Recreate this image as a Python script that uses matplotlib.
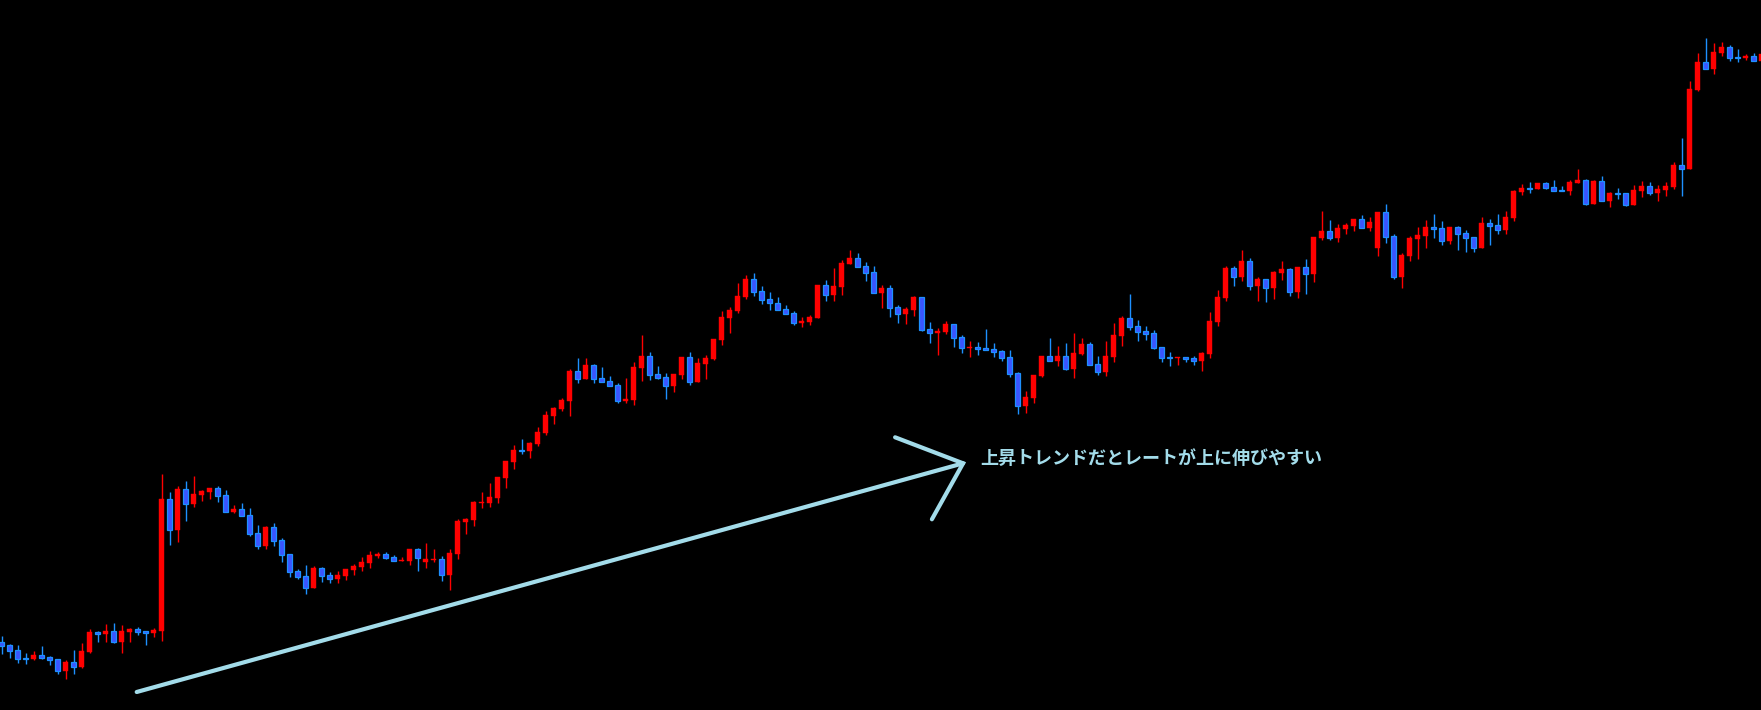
import matplotlib
matplotlib.use("Agg")
import matplotlib.pyplot as plt
import numpy as np

# price units are arbitrary (chart has no axes)
opens = [68,64.7,59.7,51.7,51,54.7,53,50.7,39.3,48,42.7,58.3,78,76.3,79,68,78.3,81,79,77,
 79,211,180.3,221,206.3,215,218,222,215,198,201,195,177,164.3,183,170,156,139,134,122.3,
 142,135,131,134.3,140.3,143.3,147.3,154.3,156,153,149.3,149.3,161,148.3,150.3,151,135.3,156.3,188.3,190.3,
 207.3,207.3,212.3,232.3,248.3,260,259.3,266.3,277.3,294.3,301.3,309.3,339,331.3,345,332,329,325,309.3,310.3,
 342.3,354,336,333,324.3,335.3,353,328.3,346.3,351.3,370.3,392.3,399.3,413.3,431,419,411,407,401,397,
 387.3,388.3,392.3,425,415.3,423.3,446.3,452,444,438,417.3,422,403,396.3,400.3,413,381,377.3,378.3,386,
 373,362.3,363,362,361,359,353,337,303.7,312.3,334.3,354,349.3,354,341.3,356.3,366,346,338.3,353.3,
 374.3,392,384,379,377,363,353.3,352.3,353,352,349.3,356.3,388.3,412.3,442,433.3,449,424.3,431,422.3,
 437.3,441,418.3,443,436.3,472.3,479,472.3,481,484.3,491,482.3,462.3,498,474,433.3,454.3,471,474.3,483,
 482,469.3,483,477,473,462.3,487,485,480.3,492.3,518.3,522,521.3,527,523,520,519.3,527,530,506.3,
 529,509.3,517,517,505.3,519.3,524,517.3,520.3,523.3,545,541.3,620.3,648,641.3,657.3,663,653,652.3,654,
 649.3]
highs = [74,66,64.7,57,58.7,64,54,50.7,49.7,60,67,81,78.7,86,87,85,82,83,79,82,
 236,218,224,229,234,220,222,224,220,205,207,202,185,183.7,187,172,156,141,145,144,
 143.3,138,139,141,146,153,159,158.3,158,155,153,161,162,167,161,154,161,191,192,209,
 218,227,233,249,265,271,268,283,299,303,312,341,352,352,346,343,334,327,332,348,
 375,358,344,337,336,353,358,352,355,371,399,403,427,435,437,424,418,413,405,399,
 393.3,395,425,430,442,450,460,457,448,444,425,425,405,403,414,413,388,382,389,386,
 375,369,368,381,367,360,360,338,319,335,354,372,364,367,377,372,368,354,369,387,
 394,416,390,384.3,380,363,358,353.3,353,354,358,398,420,444,444,460,452,433,431,439,
 449,442,443,451,473,499,490,486,487,491,495,493,498,506,476,457,474,483,490,496,
 489,483,484,480,473,493,491,496,499,520,526,528,527,528,530,524,530,541,531,530,
 534,518,522,517,525,529,528,525,528,548,572,629,657,672,667,668,665,661,656,657,
 656]
lows = [56,52.3,47.3,46.3,50,51.3,45.3,36.3,31,36.3,42,57,68,68,67,57,68,75,65,73,
 69,165,168,189,203,209,211,208.3,198.3,197,194.3,174.3,161.3,161.3,164.3,148.3,133.3,131.3,116.3,122.3,
 128.3,127.3,127.3,130.3,135.3,139.3,142.3,152.3,151.3,149.3,149.3,145.3,139.3,142.3,148.3,129.3,120.3,151.3,176.3,184.3,
 202.3,203.3,207.3,222.3,241.3,256.3,252.3,264.3,275.3,286.3,299.3,294.3,327.3,331.3,327.3,328.3,324.3,307.3,307.3,305.3,
 329.3,330.3,331.3,311.3,318.3,331.3,325.3,328.3,331.3,350.3,365.3,377.3,397.3,411.3,414.3,406.3,400.3,400.3,396.3,385.3,
 383.3,385.3,392.3,409.3,409.3,415.3,446.3,443.3,429.3,417.3,402.3,393.3,387.3,386.3,394.3,379.3,367.3,355.3,376.3,363.3,
 357.3,353.3,355.3,360.3,353.3,349.3,333.3,296.3,297.3,307.3,333.3,349.3,344.3,340.3,332.3,355.3,345.3,335.3,334.3,348.3,
 364.3,380.3,369.3,370.3,361.3,348.3,344.3,345.3,348.3,345.3,339.3,352.3,384.3,409.3,424.3,429.3,420.3,409.3,408.3,411.3,
 430.3,414.3,412.3,416.3,428.3,470,470,468.3,476.3,479.3,482.3,479.3,454.3,467.3,431.3,422.3,449.3,451.3,462.3,472.3,
 465.3,466.3,460.3,458.3,458.3,462.3,465.3,476.3,476.3,489.3,515.3,517.3,521.3,521.3,519.3,519.3,515.3,527,505.3,506.3,
 509.3,503.3,511.3,504.3,505.3,513.3,515.3,509.3,514.3,521.3,514.3,541.3,619.3,641.3,636.3,654.3,649.3,648.3,650.3,649.3,
 649.3]
closes = [64.3,59.3,51.3,51,54.7,52.3,50.3,39.3,48,43.3,59,78,76.3,79,68,79,81,78.3,77.3,80,
 211,180.3,221,206.3,216,219,222,214.3,198.3,201,194.3,176.3,164.3,183,169.3,155.3,138.3,133.3,122.3,142,
 134.3,131.3,135,141,144,148,155,156.3,152.3,149.3,150.3,161,152.3,151,151,135.3,157,189,191,208,
 208,213,233,249,260,259.3,267,278,295,302,310,339,331.3,345,331.3,328.3,324.3,309.3,311,343,
 354,335.3,332.3,324.3,336,353,328.3,347,352,371,393,400,414,431,418.3,410.3,406.7,400.3,396.3,387.3,
 389.3,393,425,415.3,424,447,452,443.3,437.3,417.3,422,402.3,396.3,401,413,380.3,377.3,379.3,386,372.3,
 362.3,363.3,361.3,360.3,358.3,352.3,336.3,303.7,313,335,354,349.3,354,341.3,357,366,345.3,338.3,354,375,
 392,383.3,378.3,376.3,362.3,352.3,352.3,353.3,351.3,349.3,357,389,413,442,433.3,449,424.3,431,422.3,438,
 441,418.3,443,436.3,473,479,472.3,482,485,491,482.3,488,498,473.3,433.3,455,472,475,483,481.3,
 469.3,483,476.3,472.3,462.3,487,484.3,480.3,493,519,522,521.3,527,522.3,519.3,519.3,528,530,506.3,529,
 509.3,517,516.3,505.3,520,524,517.3,521,524,545,541.3,621,648,641.3,658,663,652.3,652.3,654,649.3,
 656]

UP_COLOR = "#ff0000"
DOWN_FILL = "#3a55ff"
DOWN_EDGE = "#1e90ff"
NOTE_COLOR = "#a3dcea"
note_text = "上昇トレンドだとレートが上に伸びやすい"

o = np.array(opens); h = np.array(highs); l = np.array(lows); c = np.array(closes)
idx = np.arange(len(o))
up = c >= o

fig = plt.figure(figsize=(17.61, 7.10), dpi=100, facecolor="black")
ax = fig.add_axes([0, 0, 1, 1])
ax.set_facecolor("black")

# wicks
ax.vlines(idx[up], l[up], h[up], color=UP_COLOR, linewidth=1.0, zorder=2)
ax.vlines(idx[~up], l[~up], h[~up], color=DOWN_EDGE, linewidth=1.0, zorder=2)

# bodies
body_lo = np.minimum(o, c)
body_h = np.maximum(np.abs(c - o), 0.9)
ax.bar(idx[up], body_h[up], bottom=body_lo[up], width=0.62, color=UP_COLOR,
       edgecolor=UP_COLOR, linewidth=0.3, zorder=3)
ax.bar(idx[~up], body_h[~up], bottom=body_lo[~up], width=0.52, color=DOWN_FILL,
       edgecolor=DOWN_EDGE, linewidth=0.9, zorder=3)

ax.set_xlim(-0.1875, 219.9375)
ax.set_ylim(0, 710)
ax.axis("off")

# annotation arrow (hand-drawn style)
tip = (120.2, 246.7)
ax.plot([16.9, tip[0]], [18, tip[1]], color=NOTE_COLOR, linewidth=3.0,
        solid_capstyle="round", zorder=4)
ax.plot([111.7, tip[0], 116.3], [272.7, tip[1], 190.7], color=NOTE_COLOR,
        linewidth=3.0, solid_capstyle="round", solid_joinstyle="miter", zorder=4)

ax.text(122.3, 252, note_text, color=NOTE_COLOR, fontsize=13, fontweight="bold",
        family=["Noto Sans CJK JP", "DejaVu Sans"], va="center", ha="left", zorder=5)

fig.savefig("out.png", dpi=100, facecolor="black")
